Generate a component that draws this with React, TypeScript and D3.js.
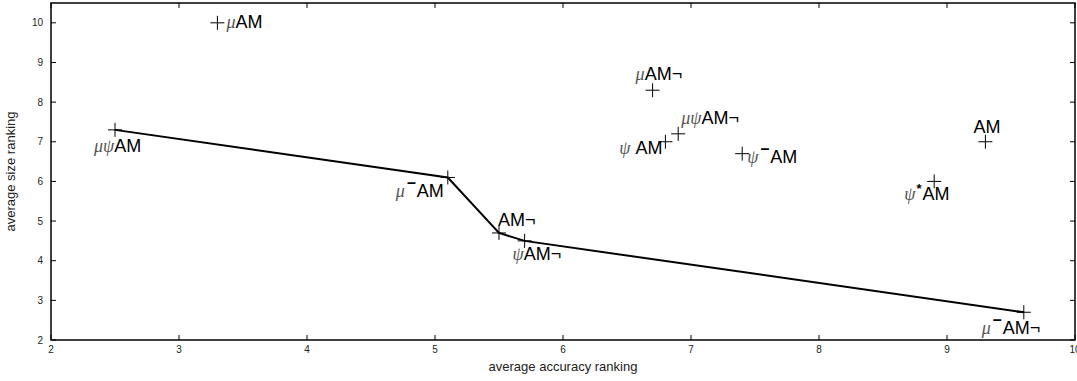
import * as d3 from 'd3';

// methods compared: label text, accuracy rank (x) and size rank (y)
const methods = ['μAM', 'μψAM', 'μ‾AM', 'AM¬', 'ψAM¬', 'μ‾AM¬', 'μAM¬', 'ψ AM', 'μψAM¬', 'ψ‾AM', 'AM', 'ψ*AM'];
const accuracy = [3.3, 2.5, 5.1, 5.5, 5.7, 9.6, 6.7, 6.8, 6.9, 7.4, 9.3, 8.9];
const sizeRank = [10, 7.3, 6.1, 4.7, 4.5, 2.7, 8.3, 7.0, 7.2, 6.7, 7.0, 6.0];
// pareto front drawn as a line
const frontier = ['μψAM', 'μ‾AM', 'AM¬', 'ψAM¬', 'μ‾AM¬'];
const xTicks = [2, 3, 4, 5, 6, 7, 8, 9, 10];
const yTicks = [2, 3, 4, 5, 6, 7, 8, 9, 10];

// label placement relative to the cross: [anchor, dx, dy]
const placement: Record<string, [string, number, number]> = {
  'μAM': ['start', 9, 5],
  'μψAM': ['start', -21, 22],
  'μ‾AM': ['end', -4, 20],
  'AM¬': ['start', -1, -7],
  'ψAM¬': ['start', -12, 19],
  'μ‾AM¬': ['start', -42, 22],
  'μAM¬': ['start', -17, -10],
  'ψ AM': ['end', -3, 12],
  'μψAM¬': ['start', 3, -10],
  'ψ‾AM': ['start', 5, 9],
  'AM': ['start', -12, -9],
  'ψ*AM': ['start', -30, 19],
};

const W = 1077;
const H = 381;
const margin = { top: 3, right: 2, bottom: 41, left: 51 };

function Label({ text }: { text: string }) {
  const parts: JSX.Element[] = [];
  let shift = 0;
  Array.from(text).forEach((ch, i) => {
    if (ch === 'μ' || ch === 'ψ') {
      parts.push(
        <tspan key={i} dy={-shift} fontFamily="'Liberation Serif', serif" fontStyle="italic" fill="#555">{ch}</tspan>
      );
      shift = 0;
    } else if (ch === '‾') {
      parts.push(<tspan key={i} dy={-9} dx={2} fontSize={16} fontWeight="bold">–</tspan>);
      shift = -9;
    } else if (ch === '*') {
      parts.push(<tspan key={i} dy={-7} dx={1} fontSize={13} fontWeight="bold">*</tspan>);
      shift = -7;
    } else {
      parts.push(<tspan key={i} dy={-shift} dx={shift ? 1 : 0}>{ch}</tspan>);
      shift = 0;
    }
  });
  return <>{parts}</>;
}

export default function App() {
  const iw = W - margin.left - margin.right;
  const ih = H - margin.top - margin.bottom;
  const x = d3.scaleLinear().domain([2, 10]).range([0, iw]);
  const y = d3.scaleLinear().domain([2, 10.5]).range([ih, 0]);

  const pts = methods.map((m, i) => ({ name: m, x: x(accuracy[i]), y: y(sizeRank[i]) }));
  const line = d3.line<{ x: number; y: number }>().x(d => d.x).y(d => d.y);
  const frontPts = frontier.map(f => pts.find(p => p.name === f)!);

  return (
    <svg width={W} height={H} style={{ position: 'absolute', left: 0, top: 0, background: '#fff' }}
      fontFamily="'Liberation Sans', Arial, sans-serif">
      <g transform={`translate(${margin.left},${margin.top})`}>
        <rect x={0} y={0} width={iw} height={ih} fill="none" stroke="#000" strokeWidth={1.5} />
        {xTicks.map(t => (
          <g key={'x' + t}>
            <line x1={x(t)} x2={x(t)} y1={ih} y2={ih - 5} stroke="#000" />
            <line x1={x(t)} x2={x(t)} y1={0} y2={5} stroke="#000" />
            <text x={x(t)} y={ih + 13} textAnchor="middle" fontSize={10} fill="#222">{t}</text>
          </g>
        ))}
        {yTicks.map(t => (
          <g key={'y' + t}>
            <line x1={0} x2={5} y1={y(t)} y2={y(t)} stroke="#000" />
            <line x1={iw} x2={iw - 5} y1={y(t)} y2={y(t)} stroke="#000" />
            <text x={-8} y={y(t) + 3.5} textAnchor="end" fontSize={10} fill="#222">{t}</text>
          </g>
        ))}
        <path d={line(frontPts) || ''} fill="none" stroke="#000" strokeWidth={2} />
        {pts.map(p => (
          <g key={p.name}>
            <line x1={p.x - 7} x2={p.x + 7} y1={p.y} y2={p.y} stroke="#000" strokeWidth={1} />
            <line x1={p.x} x2={p.x} y1={p.y - 7} y2={p.y + 7} stroke="#000" strokeWidth={1} />
          </g>
        ))}
        {pts.map(p => {
          const [anchor, dx, dy] = placement[p.name];
          return (
            <text key={'l' + p.name} x={p.x + dx} y={p.y + dy} textAnchor={anchor} fontSize={18} fill="#000" xmlSpace="preserve">
              <Label text={p.name} />
            </text>
          );
        })}
        <text x={iw / 2} y={ih + 31} textAnchor="middle" fontSize={13} fill="#222">average accuracy ranking</text>
        <text transform={`translate(${-36},${ih / 2}) rotate(-90)`} textAnchor="middle" fontSize={13} fill="#222">average size ranking</text>
      </g>
    </svg>
  );
}
